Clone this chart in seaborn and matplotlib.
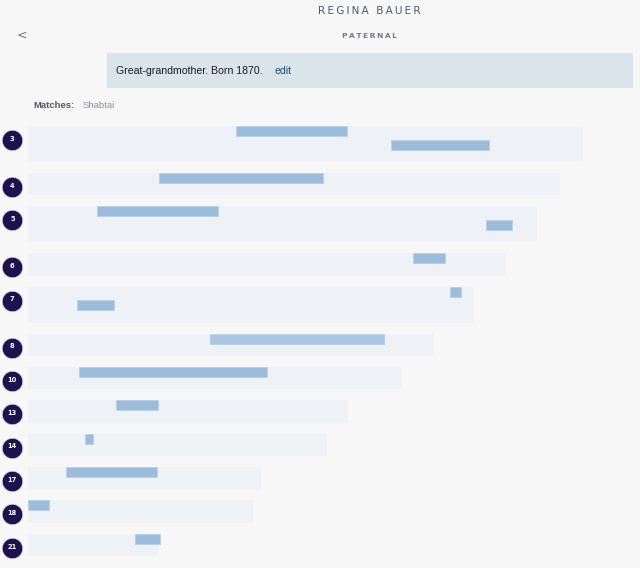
import numpy as np
import pandas as pd
import matplotlib
matplotlib.use("Agg")
import matplotlib.pyplot as plt
import seaborn as sns

# ---------------- data ----------------
chromosomes = ["3", "4", "5", "6", "7", "8", "10", "13", "14", "17", "18", "21"]
chrom_length_mb = [198.6, 190.5, 182.1, 171.0, 159.7, 145.3, 133.9, 114.5, 107.0, 83.3, 80.6, 46.6]
chrom_lanes = [2, 1, 2, 1, 2, 1, 1, 1, 1, 1, 1, 1]

seg_chrom = ["3", "3", "4", "5", "5", "6", "7", "7", "8", "10", "13", "14", "17", "18", "21"]
seg_start_mb = [74.3, 130.0, 46.8, 24.7, 164.0, 137.8, 17.4, 151.2, 65.1, 18.1, 31.5, 20.3, 13.4, 0.0, 38.2]
seg_end_mb = [114.2, 165.1, 105.7, 67.9, 173.3, 149.3, 30.8, 154.9, 127.4, 85.5, 46.3, 23.0, 45.9, 7.5, 47.1]
seg_lane = [0, 1, 0, 0, 1, 0, 1, 0, 0, 0, 0, 0, 0, 0, 0]

title = "REGINA BAUER"
subtitle = "PATERNAL"
info_text = "Great-grandmother. Born 1870."
info_link = "edit"
matches_label = "Matches:"
matches_names = "Shabtai"

# ---------------- layout (pixels) ----------------
W, H = 640, 568
PX_PER_MB = 2.79
X0 = 28.5
ROW_TOP0 = 126.0
ROW_H1 = 22.5
LANE_STEP = 13.5
ROW_GAP = 10.9
SEG_H = 10.0

row_top = []
y = ROW_TOP0
for lanes in chrom_lanes:
    row_top.append(y)
    y += ROW_H1 + LANE_STEP * (lanes - 1) + ROW_GAP
row_h = [ROW_H1 + LANE_STEP * (l - 1) for l in chrom_lanes]
top_of = dict(zip(chromosomes, row_top))

sns.set_theme(style="white")
bg = "#f8f7f7"
fig = plt.figure(figsize=(W / 100, H / 100), dpi=100, facecolor=bg)

ax = fig.add_axes([0, 0, 1, 1])
ax.set_facecolor(bg)
ax.set_xlim(-X0 / PX_PER_MB, (W - X0) / PX_PER_MB)
ax.set_ylim(H, 0)
ax.axis("off")

# chromosome background bars
ax.barh([t + h / 2 for t, h in zip(row_top, row_h)], chrom_length_mb, height=row_h,
        left=0, color="#eef1f6", edgecolor="none", zorder=1)

# matching segments
seg_y = [top_of[c] + LANE_STEP * l + SEG_H / 2 for c, l in zip(seg_chrom, seg_lane)]
seg_w = [e - s for s, e in zip(seg_start_mb, seg_end_mb)]
seg_colors = ["#abc6e0" if c == "8" else "#9bbcda" for c in seg_chrom]
ax.barh(seg_y, seg_w, height=SEG_H, left=seg_start_mb, color=seg_colors,
        edgecolor="#b8cfe5", linewidth=0.6, zorder=2)

# chromosome number badges
badge = pd.DataFrame({
    "x": [(12.3 - X0) / PX_PER_MB] * len(chromosomes),
    "y": [t + 14.0 for t in row_top],
    "chrom": chromosomes,
})
sns.scatterplot(data=badge, x="x", y="y", ax=ax, s=220, color="#1d1150",
                edgecolor="#d9d6e3", linewidth=0.6, zorder=3, legend=False)
for _, r in badge.iterrows():
    ax.text(r["x"], r["y"] - 1.3, r["chrom"], color="white", fontsize=4.8,
            fontweight="bold", ha="center", va="center", zorder=4,
            family=["DejaVu Sans"])

# ---------------- header (pixel axes) ----------------
hx = fig.add_axes([0, 0, 1, 1])
hx.set_xlim(0, W)
hx.set_ylim(H, 0)
hx.axis("off")
hx.patch.set_alpha(0)

thin = "\u2009"
hx.text(369, 11, thin.join(title), ha="center", va="center", fontsize=7.6,
        color="#4f5a66", family=["DejaVu Sans"])
hx.text(369, 35.5, thin.join(subtitle), ha="center", va="center",
        fontsize=5.4, color="#6f7a86", fontweight="bold", family=["DejaVu Sans"])
hx.text(22, 35, "<", ha="center", va="center", fontsize=9, color="#6d747c",
        family=["DejaVu Sans"])

hx.add_patch(plt.Rectangle((107, 53), 526, 34.5, facecolor="#d9e4eb",
                           edgecolor="none"))
hx.text(116, 70.5, info_text, ha="left", va="center", fontsize=7.6,
        color="#1c1c1c", family=["Liberation Sans"])
hx.text(274.5, 70.5, info_link, ha="left", va="center", fontsize=7.6,
        color="#1e4d6c", family=["Liberation Sans"])

hx.text(33, 105.5, matches_label, ha="left", va="center", fontsize=6.8,
        color="#555a60", fontweight="bold", family=["Liberation Sans"])
hx.text(83, 105.5, matches_names, ha="left", va="center", fontsize=6.8,
        color="#8b929b", family=["Liberation Sans"])

fig.savefig("out.png", dpi=100, facecolor=bg)
